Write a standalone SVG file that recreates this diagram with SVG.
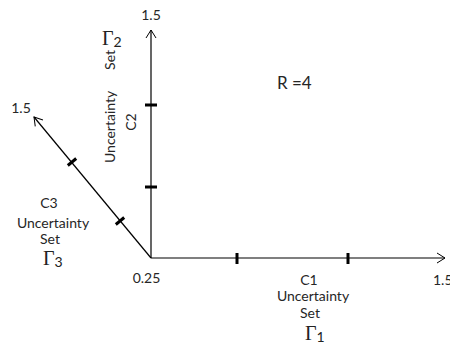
<svg xmlns="http://www.w3.org/2000/svg" width="450" height="347" viewBox="0 0 450 347">
<style>
.ax{stroke:#000;stroke-width:1.2;fill:none}
.tk{stroke:#000;stroke-width:3;fill:none}
.t{font-family:Lato,"Open Sans","Liberation Sans",sans-serif;font-size:14px;fill:#262626;text-anchor:middle}
.g{font-family:"Liberation Serif","DejaVu Serif",serif;font-size:20px;fill:#222}
.g tspan{font-family:Lato,"Liberation Sans",sans-serif;font-size:14px}
</style>
<defs>
<marker id="ar" markerWidth="12" markerHeight="12" refX="10" refY="6" orient="auto" markerUnits="userSpaceOnUse">
<path d="M2,1 L10,6 L2,11" fill="none" stroke="#000" stroke-width="1"/>
</marker>
</defs>
<g id="connectors">
<line class="ax" x1="151" y1="258" x2="151" y2="30" marker-end="url(#ar)"/>
<line class="ax" x1="151" y1="258" x2="445" y2="258" marker-end="url(#ar)"/>
<line class="ax" x1="151" y1="258" x2="34" y2="117" marker-end="url(#ar)"/>
<line class="tk" x1="145" y1="105" x2="157" y2="105"/>
<line class="tk" x1="145" y1="187" x2="157" y2="187"/>
<line class="tk" x1="237" y1="253" x2="237" y2="264"/>
<line class="tk" x1="348" y1="253" x2="348" y2="264"/>
<line class="tk" x1="67.8" y1="165.5" x2="76.2" y2="158.5"/>
<line class="tk" x1="115.8" y1="224.5" x2="124.2" y2="217.5"/>
</g>
<g id="axis-y">
<text class="t" x="151" y="20">1.5</text>
<text class="g" x="102" y="45">Γ<tspan dy="2">2</tspan></text>
<text class="t" style="text-anchor:start" transform="translate(115,163) rotate(-90)">Uncertainty</text>
<text class="t" style="text-anchor:end" transform="translate(115,50) rotate(-90)">Set</text>
<text class="t" transform="translate(136,122) rotate(-90)">C2</text>
</g>
<g id="axis-x">
<text class="t" x="309" y="285">C1</text>
<text class="t" x="313" y="301">Uncertainty</text>
<text class="t" x="310" y="318">Set</text>
<text class="g" x="305" y="340">Γ<tspan dy="2">1</tspan></text>
<text class="t" style="text-anchor:start" x="433" y="285">1.5</text>
</g>
<g id="axis-z">
<text class="t" x="21" y="113">1.5</text>
<text class="t" x="49" y="208">C3</text>
<text class="t" x="53" y="228">Uncertainty</text>
<text class="t" x="50" y="244">Set</text>
<text class="g" x="43" y="265">Γ<tspan dy="2">3</tspan></text>
<text class="t" x="146.5" y="283">0.25</text>
</g>
<g id="label-r">
<text class="t" style="font-size:17px;text-anchor:start" x="277" y="89">R =4</text>
</g>
</svg>
